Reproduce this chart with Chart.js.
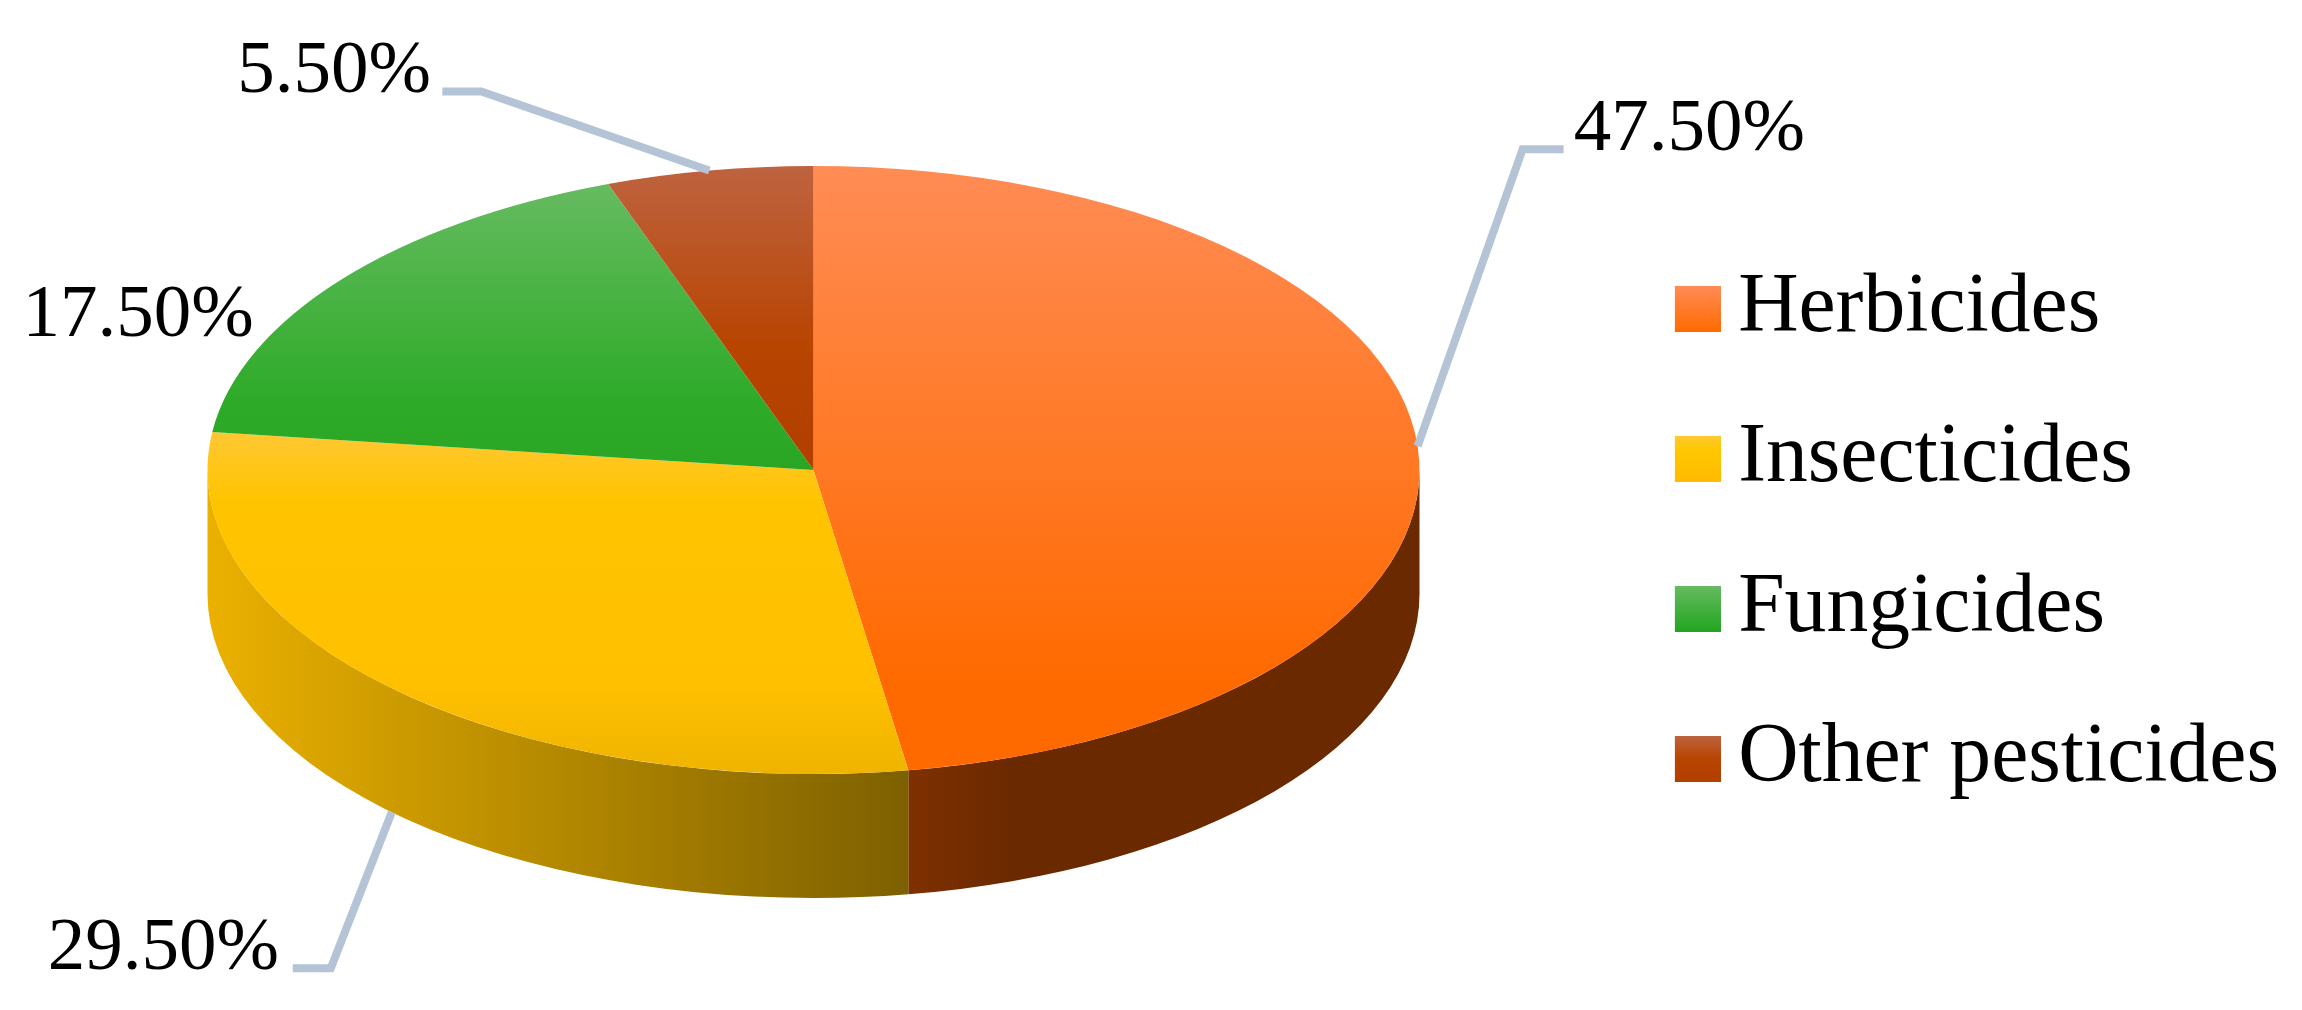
<!DOCTYPE html>
<html>
<head>
<meta charset="utf-8">
<style>
  html, body { margin: 0; padding: 0; background: #fff; }
  canvas { display: block; }
</style>
<script src="https://cdn.jsdelivr.net/npm/chart.js@4/dist/chart.umd.min.js"></script>
</head>
<body>
<canvas id="pieChart" width="2302" height="1010"></canvas>
<script>
const categories = ['Herbicides', 'Insecticides', 'Fungicides', 'Other pesticides'];
const shares = [47.5, 29.5, 17.5, 5.5];
const shareLabels = ['47.50%', '29.50%', '17.50%', '5.50%'];

// top face gradient per slice: [position on the pie's height, colour]
const faceStops = [
  [[0, '#ff8c55'], [0.85, '#ff6a00'], [1, '#ff6a00']],
  [[0.44, '#ffc832'], [0.55, '#ffc400'], [0.85, '#ffc000'], [1, '#efb400']],
  [[0.03, '#66bb60'], [0.38, '#2fab2a'], [0.5, '#2aa524']],
  [[0, '#be6340'], [0.3, '#b84400'], [0.5, '#b33f00']]
];
// side wall gradient, left to right
const wallStops = [
  [[0, '#7f3000'], [0.2, '#6b2900'], [1, '#6b2900']],
  [[0, '#ebb100'], [1, '#7d6000']],
  null,
  null
];
const legendStops = [
  [[0, '#ff8c55'], [1, '#ff6a00']],
  [[0, '#ffc832'], [0.3, '#ffc800'], [1, '#ffbb00']],
  [[0, '#66bb60'], [1, '#22a520']],
  [[0, '#be6340'], [0.5, '#b84400'], [1, '#b33f00']]
];

// where the flattened disc sits on the page
const disc = { x: 813.5, y: 470, rx: 606, ry: 304, depth: 124 };

// elbow and label, relative to the slice's rim point
const labelLayout = [
  { elbow: [105, -297], end: [146, -297], text: [156, -296] },
  { elbow: [-61, 156], end: [-99, 156], text: [-344, 157] },
  { elbow: null, end: null, text: [-318, 56] },
  { elbow: [-228, -79], end: [-267, -79], text: [-472, -79] }
];

const serif = '"Liberation Serif", serif';

const addStops = (gradient, stops) => {
  stops.forEach(([pos, color]) => gradient.addColorStop(pos, color));
  return gradient;
};

// transparent strip on the left nudges the square toward its label
const legendSwatch = (stops) => {
  const swatch = document.createElement('canvas');
  swatch.width = 54;
  swatch.height = 46;
  const swatchCtx = swatch.getContext('2d');
  swatchCtx.fillStyle = addStops(swatchCtx.createLinearGradient(0, 0, 0, 46), stops);
  swatchCtx.fillRect(8, 0, 46, 46);
  return swatch;
};

const rimPoint = (arc) => {
  const mid = (arc.startAngle + arc.endAngle) / 2;
  const x = disc.x + Math.cos(mid) * disc.rx;
  const y = disc.y + Math.sin(mid) * disc.ry;
  // the lower half hangs on the bottom edge of the wall
  return { x, y: Math.sin(mid) > 0 && Math.abs(Math.cos(mid)) < 0.9 ? y + disc.depth : y };
};

const drawWalls = (ctx, arcs) => {
  arcs.forEach((arc, i) => {
    if (!wallStops[i]) return;
    const from = Math.max(arc.startAngle, 0);
    const to = Math.min(arc.endAngle, Math.PI);
    if (from >= to) return;
    const x0 = disc.x + Math.cos(to) * disc.rx;
    const x1 = disc.x + Math.cos(from) * disc.rx;
    ctx.beginPath();
    ctx.ellipse(disc.x, disc.y, disc.rx, disc.ry, 0, from, to);
    ctx.ellipse(disc.x, disc.y + disc.depth, disc.rx, disc.ry, 0, to, from, true);
    ctx.closePath();
    ctx.fillStyle = addStops(ctx.createLinearGradient(x0, 0, x1, 0), wallStops[i]);
    ctx.fill();
  });
};

const pie3d = {
  id: 'pie3d',
  beforeDatasetsDraw: (chart) => {
    const ctx = chart.ctx;
    const arcs = chart.getDatasetMeta(0).data;
    drawWalls(ctx, arcs);
    // squash the library's round pie into the top face
    const { x, y, outerRadius } = arcs[0];
    ctx.save();
    ctx.translate(disc.x, disc.y);
    ctx.scale(disc.rx / outerRadius, disc.ry / outerRadius);
    ctx.translate(-x, -y);
  },
  afterDatasetsDraw: (chart) => {
    const ctx = chart.ctx;
    ctx.restore();
    ctx.font = '75px ' + serif;
    ctx.textBaseline = 'alphabetic';
    ctx.textAlign = 'left';
    chart.getDatasetMeta(0).data.forEach((arc, i) => {
      const rim = rimPoint(arc);
      const layout = labelLayout[i];
      if (layout.elbow) {
        ctx.beginPath();
        ctx.moveTo(rim.x, rim.y);
        ctx.lineTo(rim.x + layout.elbow[0], rim.y + layout.elbow[1]);
        ctx.lineTo(rim.x + layout.end[0], rim.y + layout.end[1]);
        ctx.strokeStyle = '#b4c4d6';
        ctx.lineWidth = 8;
        ctx.lineJoin = 'miter';
        ctx.stroke();
      }
      ctx.fillStyle = '#000';
      ctx.fillText(shareLabels[i], rim.x + layout.text[0], rim.y + layout.text[1]);
    });
  }
};

new Chart(document.getElementById('pieChart').getContext('2d'), {
  type: 'pie',
  plugins: [pie3d],
  data: {
    labels: categories,
    datasets: [{
      data: shares,
      borderWidth: 0,
      backgroundColor: (c) => {
        const area = c.chart.chartArea;
        if (!area) return '#ccc';
        const r = Math.min(area.right - area.left, area.bottom - area.top) / 2;
        const mid = (area.top + area.bottom) / 2;
        return addStops(c.chart.ctx.createLinearGradient(0, mid - r, 0, mid + r), faceStops[c.dataIndex]);
      }
    }]
  },
  options: {
    responsive: false,
    animation: false,
    layout: { padding: { top: 58, right: 13 } },
    plugins: {
      tooltip: { enabled: false },
      legend: {
        position: 'right',
        labels: {
          color: '#000',
          font: { family: serif, size: 83.6 },
          usePointStyle: true,
          pointStyleWidth: 5,
          padding: 66.4,
          generateLabels: () => categories.map((text, i) => ({
            text,
            index: i,
            fontColor: '#000',
            lineWidth: 0,
            pointStyle: legendSwatch(legendStops[i])
          }))
        }
      }
    }
  }
});
</script>
</body>
</html>
